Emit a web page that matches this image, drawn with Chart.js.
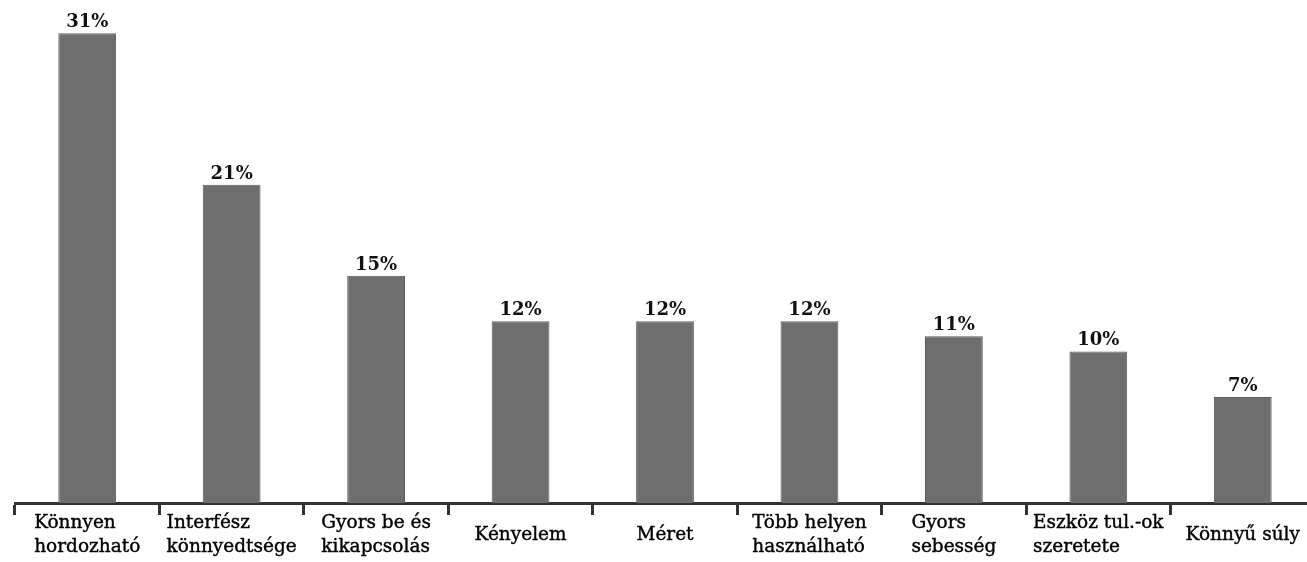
<!DOCTYPE html>
<html>
<head>
<meta charset="utf-8">
<script src="https://cdn.jsdelivr.net/npm/chart.js@4"></script>
<style>
html, body { margin: 0; padding: 0; background: #fff; overflow: hidden; }
#wrap { position: relative; width: 1315px; height: 562px; }
</style>
</head>
<body>
<div id="wrap"><canvas id="c"></canvas></div>
<script>
const categories = [
  ["Könnyen", "hordozható"],
  ["Interfész", "könnyedtsége"],
  ["Gyors be és", "kikapcsolás"],
  ["Kényelem"],
  ["Méret"],
  ["Több helyen", "használható"],
  ["Gyors", "sebesség"],
  ["Eszköz tul.-ok", "szeretete"],
  ["Könnyű súly"]
];
const values = [31, 21, 15, 12, 12, 12, 11, 10, 7];
const yMax = 33;

const valueLabels = {
  id: 'valueLabels',
  afterDatasetsDraw(chart) {
    const ctx = chart.ctx;
    const meta = chart.getDatasetMeta(0);
    ctx.save();
    ctx.font = 'bold 18px "DejaVu Serif"';
    ctx.fillStyle = '#111';
    ctx.textAlign = 'center';
    ctx.textBaseline = 'alphabetic';
    meta.data.forEach((bar, i) => {
      ctx.fillText(values[i] + '%', bar.x, bar.y - 6);
    });
    ctx.restore();
  }
};

const categoryLabels = {
  id: 'categoryLabels',
  afterDraw(chart) {
    const ctx = chart.ctx;
    const xs = chart.scales.x;
    const center = chart.chartArea.bottom + 37;
    ctx.save();
    ctx.font = '18.5px "DejaVu Serif"';
    ctx.fillStyle = '#000';
    ctx.strokeStyle = '#000';
    ctx.lineWidth = 0.4;
    ctx.textAlign = 'left';
    ctx.textBaseline = 'alphabetic';
    categories.forEach((lines, i) => {
      const cx = xs.getPixelForValue(i);
      const w = Math.max(...lines.map(l => ctx.measureText(l).width));
      const n = lines.length;
      lines.forEach((l, k) => {
        const x = cx - w / 2;
        const y = center - (n - 1) * 12 + k * 24;
        ctx.fillText(l, x, y);
        ctx.strokeText(l, x, y);
      });
    });
    ctx.restore();
  }
};

new Chart(document.getElementById('c'), {
  type: 'bar',
  data: {
    labels: categories,
    datasets: [{
      data: values,
      backgroundColor: '#6e6e6e',
      borderColor: '#5c5c5c',
      borderWidth: 1,
      barPercentage: 0.4,
      categoryPercentage: 1
    }]
  },
  options: {
    responsive: true,
    maintainAspectRatio: false,
    animation: false,
    layout: { padding: { left: 15, right: 0, top: 3, bottom: 0 } },
    plugins: { legend: { display: false }, tooltip: { enabled: false } },
    scales: {
      x: {
        grid: {
          offset: true,
          drawOnChartArea: false,
          drawTicks: true,
          tickLength: 12,
          tickWidth: 3,
          tickColor: '#333'
        },
        border: { display: true, color: '#333', width: 3 },
        ticks: { display: false },
        afterFit(scale) { scale.height = 59; }
      },
      y: {
        display: false,
        min: 0,
        max: yMax
      }
    }
  },
  plugins: [valueLabels, categoryLabels]
});
</script>
</body>
</html>
